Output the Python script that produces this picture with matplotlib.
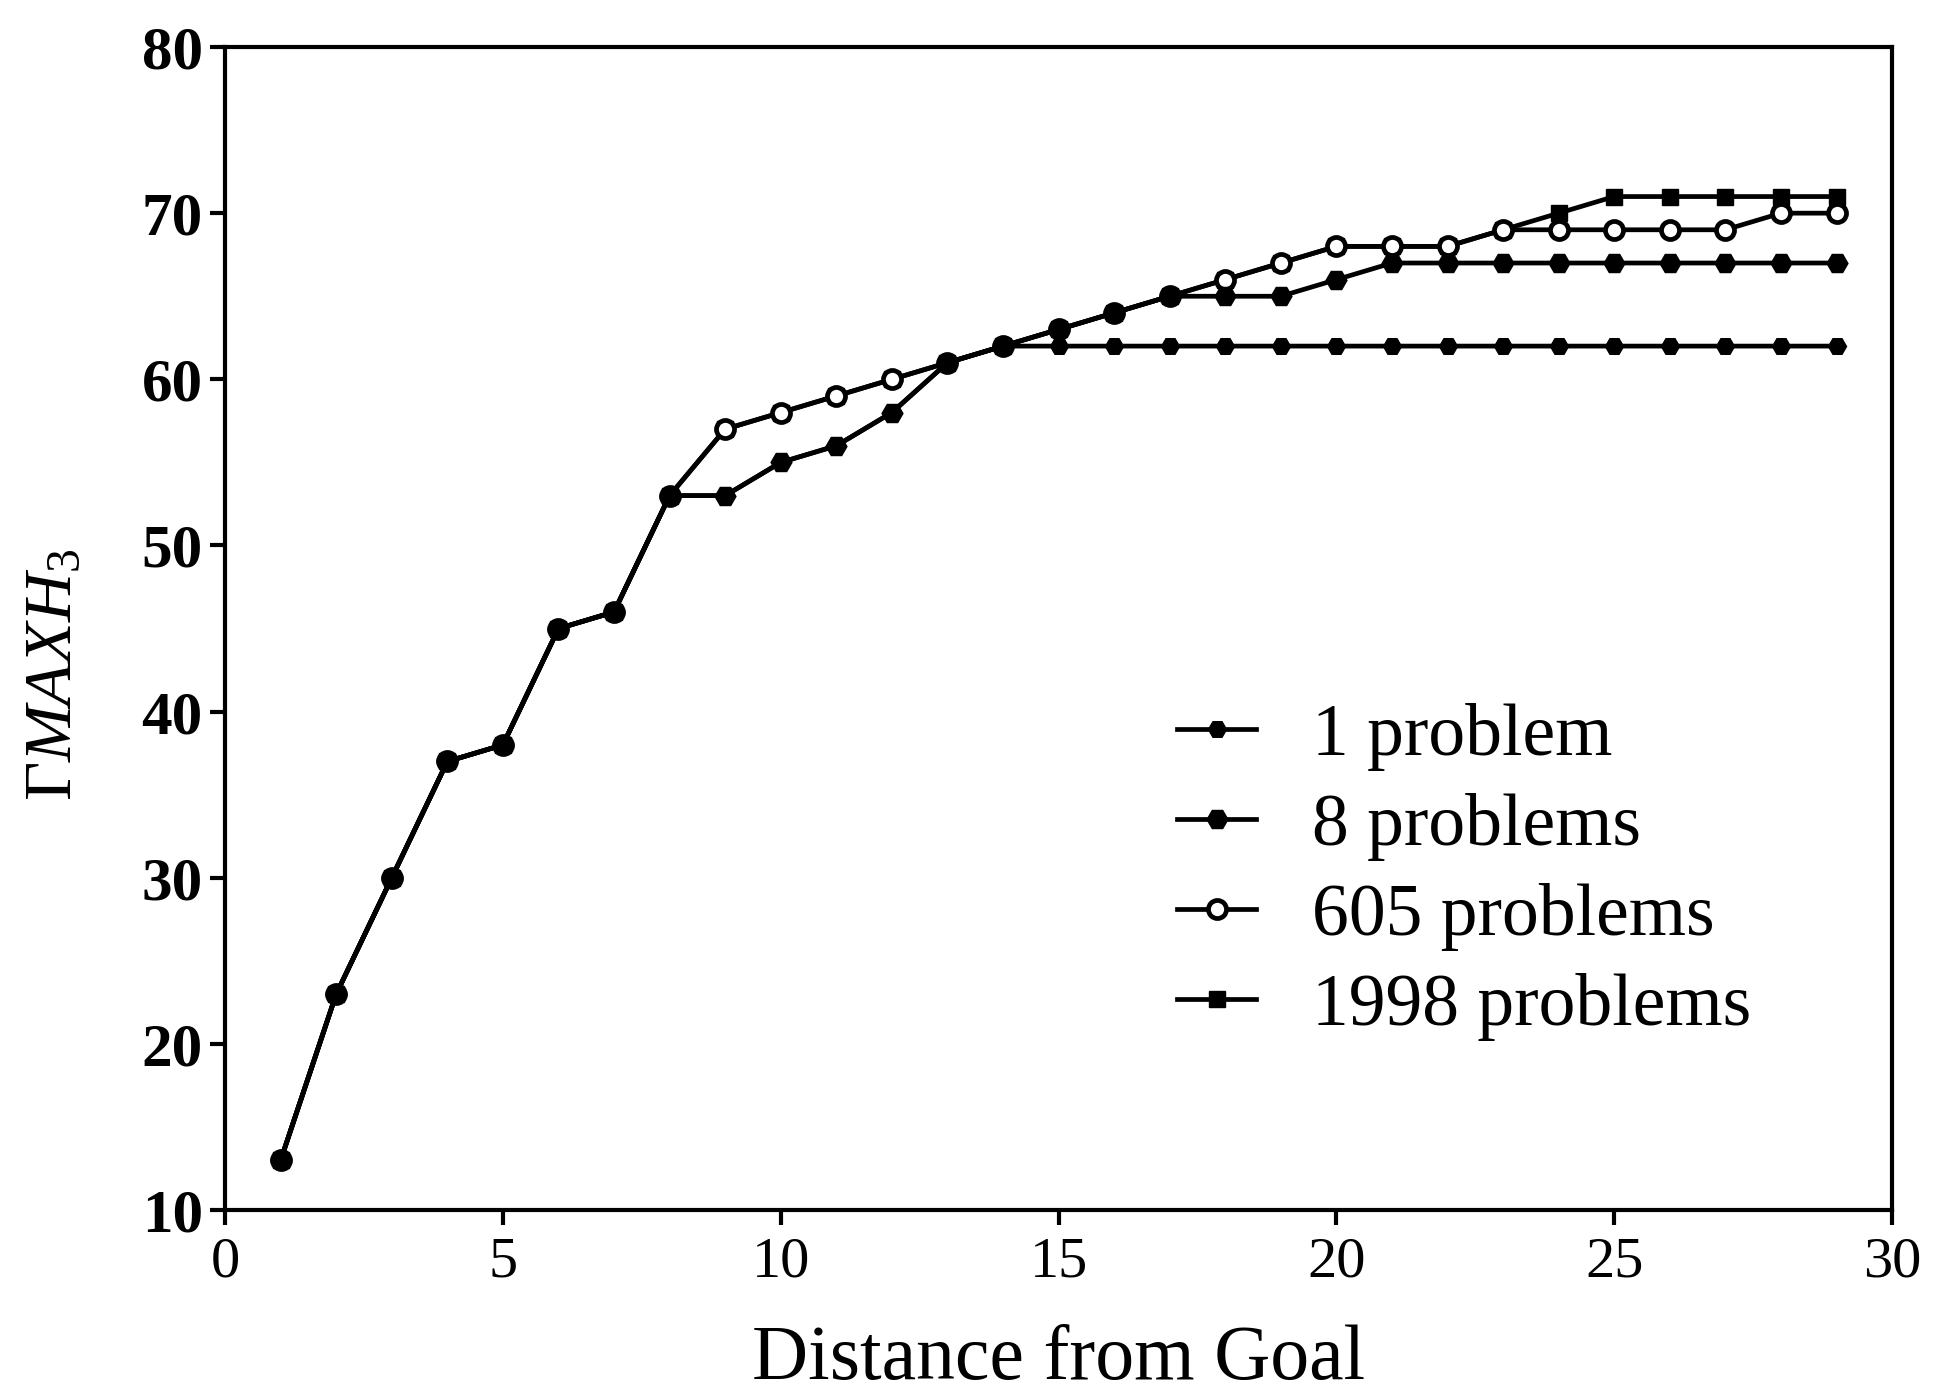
import matplotlib
matplotlib.use("Agg")
import matplotlib.pyplot as plt

plt.rcParams['font.family'] = ['Liberation Serif', 'DejaVu Serif']
plt.rcParams['mathtext.fontset'] = 'custom'
plt.rcParams['mathtext.rm'] = 'Liberation Serif'
plt.rcParams['mathtext.it'] = 'Liberation Serif:italic'

# distance from goal
dist = [1, 2, 3, 4, 5, 6, 7, 8, 9, 10, 11, 12, 13, 14, 15,
        16, 17, 18, 19, 20, 21, 22, 23, 24, 25, 26, 27, 28, 29]

one_problem = [13, 23, 30, 37, 38, 45, 46, 53, 53, 55, 56, 58, 61, 62, 62,
               62, 62, 62, 62, 62, 62, 62, 62, 62, 62, 62, 62, 62, 62]
eight_problems = [13, 23, 30, 37, 38, 45, 46, 53, 53, 55, 56, 58, 61, 62, 63,
                  64, 65, 65, 65, 66, 67, 67, 67, 67, 67, 67, 67, 67, 67]
p605_problems = [13, 23, 30, 37, 38, 45, 46, 53, 57, 58, 59, 60, 61, 62, 63,
                 64, 65, 66, 67, 68, 68, 68, 69, 69, 69, 69, 69, 70, 70]
p1998_problems = [13, 23, 30, 37, 38, 45, 46, 53, 57, 58, 59, 60, 61, 62, 63,
                  64, 65, 66, 67, 68, 68, 68, 69, 70, 71, 71, 71, 71, 71]

labels = ['1 problem', '8 problems', '605 problems', '1998 problems']

fig = plt.figure(figsize=(19.52, 13.99), dpi=100)
ax = fig.add_axes([0.1153, 0.135, 0.854, 0.8314])

lw = 3.4
ax.plot(dist, p1998_problems, color='black', lw=lw, marker='s', ms=11, label=labels[3], zorder=3)
ax.plot(dist, p605_problems, color='black', lw=lw, marker='o', ms=13, mfc='white', mew=3.4, label=labels[2], zorder=4)
ax.plot(dist, eight_problems, color='black', lw=lw, marker='H', ms=15, label=labels[1], zorder=5)
ax.plot(dist, one_problem, color='black', lw=lw, marker='H', ms=13, label=labels[0], zorder=6)

ax.set_xlim(0, 30)
ax.set_ylim(10, 80)
ax.set_xticks([0, 5, 10, 15, 20, 25, 30])
ax.set_yticks([10, 20, 30, 40, 50, 60, 70, 80])

for s in ax.spines.values():
    s.set_linewidth(3)
ax.tick_params(direction='out', length=11, width=3, pad=8)
ax.tick_params(axis='x', labelsize=42)
ax.tick_params(axis='y', labelsize=44, pad=5)
for t in ax.get_yticklabels():
    t.set_fontweight('bold')

ax.set_xlabel('Distance from Goal', fontsize=56, labelpad=26)
ax.set_ylabel(r'$\mathit{ΓMAXH}_3$', fontsize=49)
ax.yaxis.set_label_coords(-0.084, 0.46)

handles, labs = ax.get_legend_handles_labels()
order = [3, 2, 1, 0]
ax.legend([handles[i] for i in order], [labs[i] for i in order],
          loc='upper left', bbox_to_anchor=(0.571, 0.436), frameon=False,
          fontsize=53, handlelength=1.08, handletextpad=0.75, labelspacing=0.3,
          borderpad=0, borderaxespad=0)

fig.savefig('out.png', dpi=100)
